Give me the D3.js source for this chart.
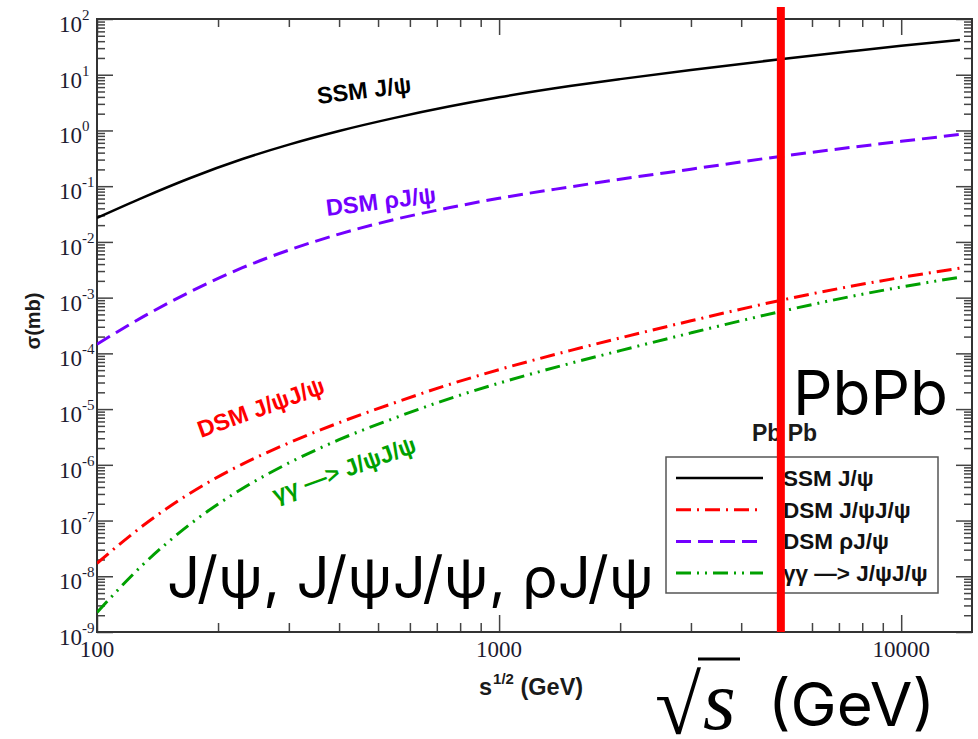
<!DOCTYPE html>
<html><head><meta charset="utf-8">
<script src="https://cdn.jsdelivr.net/npm/d3@7"></script>
<style>body{margin:0;background:#fff} svg{display:block}</style>
</head><body><svg id="chart" width="978" height="739"></svg>
<script>
// Centre-of-mass energy per nucleon pair (GeV)
const energies = [100, 130, 170, 230, 300, 400, 550, 750, 1000, 1500, 2000, 3000, 5000, 7500, 10000, 14000];
// Cross sections (mb)
const ssmJpsi       = [0.027, 0.0625, 0.139, 0.307, 0.557, 0.977, 1.68, 2.68, 3.93, 6.25, 8.34, 12.2, 19.0, 26.4, 33.1, 42.2];
const dsmJpsiJpsi   = [1.71e-8, 8.05e-8, 3.06e-7, 1.03e-6, 2.47e-6, 5.70e-6, 1.30e-5, 2.75e-5, 5.11e-5, 1.12e-4, 1.89e-4, 3.84e-4, 8.91e-4, 1.60e-3, 2.30e-3, 3.38e-3];
const dsmRhoJpsi    = [1.46e-4, 4.51e-4, 1.26e-3, 3.44e-3, 7.13e-3, 0.0138, 0.0253, 0.0409, 0.0607, 0.0970, 0.133, 0.202, 0.342, 0.497, 0.638, 0.847];
const gammaJpsiJpsi = [2.25e-9, 1.61e-8, 8.49e-8, 3.75e-7, 1.08e-6, 2.82e-6, 6.92e-6, 1.53e-5, 2.92e-5, 6.58e-5, 1.12e-4, 2.33e-4, 5.61e-4, 1.05e-3, 1.55e-3, 2.33e-3];

const seriesNames = ["SSM J/ψ", "DSM J/ψJ/ψ", "DSM ρJ/ψ", "γγ —> J/ψJ/ψ"];
const xTickLabels = ["100", "1000", "10000"];
const xTickValues = [100, 1000, 10000];
const yExponents = [-9, -8, -7, -6, -5, -4, -3, -2, -1, 0, 1, 2];
const pbpbEnergy = 5020;

const svg = d3.select("#chart");
const L = 97, R = 972, T = 19, B = 632;
const x = d3.scaleLog().domain([100, 15000]).range([L, R]);
const y = d3.scaleLog().domain([1e-9, 1e2]).range([B, T]);

const tickColor = "#444";
const labelColor = "#1c1a30";

// minor tick positions
const xMinor = [];
[100, 1000, 10000].forEach(d => { for (let k = 2; k <= 9; k++) { const v = d * k; if (v < 15000) xMinor.push(v); } });
const yMajor = yExponents.map(e => Math.pow(10, e));
const yMinor = [];
yExponents.slice(0, -1).forEach(e => { for (let k = 2; k <= 9; k++) yMinor.push(k * Math.pow(10, e)); });

function styleAxis(g) {
  g.select(".domain").remove();
  g.selectAll(".tick line").attr("stroke", tickColor).attr("stroke-width", 1.5);
  g.selectAll(".tick text").remove();
}
// bottom / top
svg.append("g").attr("transform", `translate(0,${B})`).call(d3.axisBottom(x).tickValues(xTickValues).tickSize(-17)).call(styleAxis);
svg.append("g").attr("transform", `translate(0,${B})`).call(d3.axisBottom(x).tickValues(xMinor).tickSize(-9)).call(styleAxis);
svg.append("g").attr("transform", `translate(0,${T})`).call(d3.axisTop(x).tickValues(xTickValues).tickSize(-16)).call(styleAxis);
svg.append("g").attr("transform", `translate(0,${T})`).call(d3.axisTop(x).tickValues(xMinor).tickSize(-8)).call(styleAxis);
// left / right
svg.append("g").attr("transform", `translate(${L},0)`).call(d3.axisLeft(y).tickValues(yMajor).tickSize(-16)).call(styleAxis);
svg.append("g").attr("transform", `translate(${L},0)`).call(d3.axisLeft(y).tickValues(yMinor).tickSize(-8)).call(styleAxis);
svg.append("g").attr("transform", `translate(${R},0)`).call(d3.axisRight(y).tickValues(yMajor).tickSize(-16)).call(styleAxis);
svg.append("g").attr("transform", `translate(${R},0)`).call(d3.axisRight(y).tickValues(yMinor).tickSize(-8)).call(styleAxis);

// frame
svg.append("rect").attr("x", L).attr("y", T).attr("width", R - L).attr("height", B - T)
  .attr("fill", "none").attr("stroke", "#333").attr("stroke-width", 2);

// x tick labels
svg.append("g").selectAll("text").data(xTickValues).join("text")
  .attr("x", d => x(d)).attr("y", 657).attr("text-anchor", "middle")
  .attr("font-family", "Liberation Serif").attr("font-size", 23).attr("fill", labelColor)
  .text((d, i) => xTickLabels[i]);

// y tick labels as powers of ten
const yl = svg.append("g").attr("font-family", "Liberation Serif").attr("fill", labelColor);
yExponents.forEach(e => {
  const py = y(Math.pow(10, e));
  yl.append("text").attr("x", 82).attr("y", py + 13).attr("text-anchor", "end").attr("font-size", 23).text("10");
  yl.append("text").attr("x", 82).attr("y", py + 1).attr("font-size", 15).text(String(e));
});

// axis titles
const xt = svg.append("text").attr("x", 479).attr("y", 695).attr("font-family", "Liberation Sans")
  .attr("font-weight", "bold").attr("font-size", 23.5).attr("fill", "#1a1a1a");
xt.append("tspan").text("s");
xt.append("tspan").attr("font-size", 15).attr("dy", -11).attr("dx", 1).text("1/2");
xt.append("tspan").attr("dy", 11).text(" (GeV)");

svg.append("text").attr("transform", "translate(40,321) rotate(-90)").attr("text-anchor", "middle")
  .attr("font-family", "Liberation Sans").attr("font-weight", "bold").attr("font-size", 20)
  .attr("fill", "#1a1a1a").text("σ(mb)");

// curves
svg.append("clipPath").attr("id", "plotClip").append("rect")
  .attr("x", L).attr("y", T).attr("width", R - L).attr("height", B - T);

const series = [
  { name: seriesNames[0], values: ssmJpsi, color: "#000000", dash: null, width: 2.5 },
  { name: seriesNames[1], values: dsmJpsiJpsi, color: "#ff0000", dash: "15,6,2,6", width: 3 },
  { name: seriesNames[2], values: dsmRhoJpsi, color: "#7300ff", dash: "15,7", width: 3 },
  { name: seriesNames[3], values: gammaJpsiJpsi, color: "#00a000", dash: "15,6,2,6,2,6", width: 3 }
];

const line = d3.line().x(d => x(d[0])).y(d => y(d[1])).curve(d3.curveMonotoneX);
const curves = svg.append("g").attr("clip-path", "url(#plotClip)");
series.forEach(s => {
  curves.append("path").datum(energies.map((e, i) => [e, s.values[i]]))
    .attr("d", line).attr("fill", "none").attr("stroke", s.color)
    .attr("stroke-width", s.width).attr("stroke-dasharray", s.dash);
});

// curve labels
const curveLabels = [
  { text: seriesNames[0], color: "#000", x: 318, y: 104, a: -7 },
  { text: seriesNames[2], color: "#7300ff", x: 327, y: 216, a: -7 },
  { text: seriesNames[1], color: "#ff0000", x: 201, y: 438, a: -20 },
  { text: seriesNames[3], color: "#00a000", x: 276, y: 503, a: -20 }
];
svg.append("g").selectAll("text").data(curveLabels).join("text")
  .attr("transform", d => `translate(${d.x},${d.y}) rotate(${d.a})`)
  .attr("font-family", "Liberation Sans").attr("font-weight", "bold").attr("font-size", 23.5)
  .attr("fill", d => d.color).text(d => d.text);

// legend
const lg = svg.append("g");
lg.append("text").attr("x", 752).attr("y", 441).attr("font-family", "Liberation Sans")
  .attr("font-weight", "bold").attr("font-size", 23).attr("fill", "#1a1a1a").text("Pb Pb");
lg.append("rect").attr("x", 666).attr("y", 457).attr("width", 272).attr("height", 136)
  .attr("fill", "#fff").attr("stroke", "#555").attr("stroke-width", 1.5);
series.forEach((s, i) => {
  const cy = 478 + i * 31.7;
  lg.append("line").attr("x1", 676).attr("x2", 763).attr("y1", cy).attr("y2", cy)
    .attr("stroke", s.color).attr("stroke-width", s.width).attr("stroke-dasharray", s.dash);
  lg.append("text").attr("x", 783).attr("y", cy + 8).attr("font-family", "Liberation Sans")
    .attr("font-weight", "bold").attr("font-size", 22.5).attr("fill", "#111").text(s.name);
});

// PbPb collision energy marker
svg.append("line").attr("x1", x(pbpbEnergy)).attr("x2", x(pbpbEnergy)).attr("y1", 7).attr("y2", B)
  .attr("stroke", "#ff0000").attr("stroke-width", 8);

// overlay annotations
const big = svg.append("g").attr("fill", "#000");
big.append("text").attr("x", 793).attr("y", 415).attr("font-family", "Inter").attr("font-size", 62)
  .attr("textLength", 155).attr("lengthAdjust", "spacingAndGlyphs").text("PbPb");
big.append("text").attr("x", 167).attr("y", 598).attr("font-family", "Inter").attr("font-size", 57)
  .attr("textLength", 487).attr("lengthAdjust", "spacingAndGlyphs").text("J/ψ, J/ψJ/ψ, ρJ/ψ");
big.append("text").attr("x", 655).attr("y", 734).attr("font-family", "Liberation Serif").attr("font-size", 84).text("√");
big.append("line").attr("x1", 698).attr("x2", 740).attr("y1", 659).attr("y2", 659).attr("stroke", "#000").attr("stroke-width", 3);
big.append("text").attr("x", 703).attr("y", 729).attr("font-family", "Liberation Serif").attr("font-style", "italic").attr("font-size", 84).text("s");
big.append("text").attr("x", 768).attr("y", 726).attr("font-family", "Inter").attr("font-size", 61)
  .attr("textLength", 167).attr("lengthAdjust", "spacingAndGlyphs").text("(GeV)");
</script></body></html>
